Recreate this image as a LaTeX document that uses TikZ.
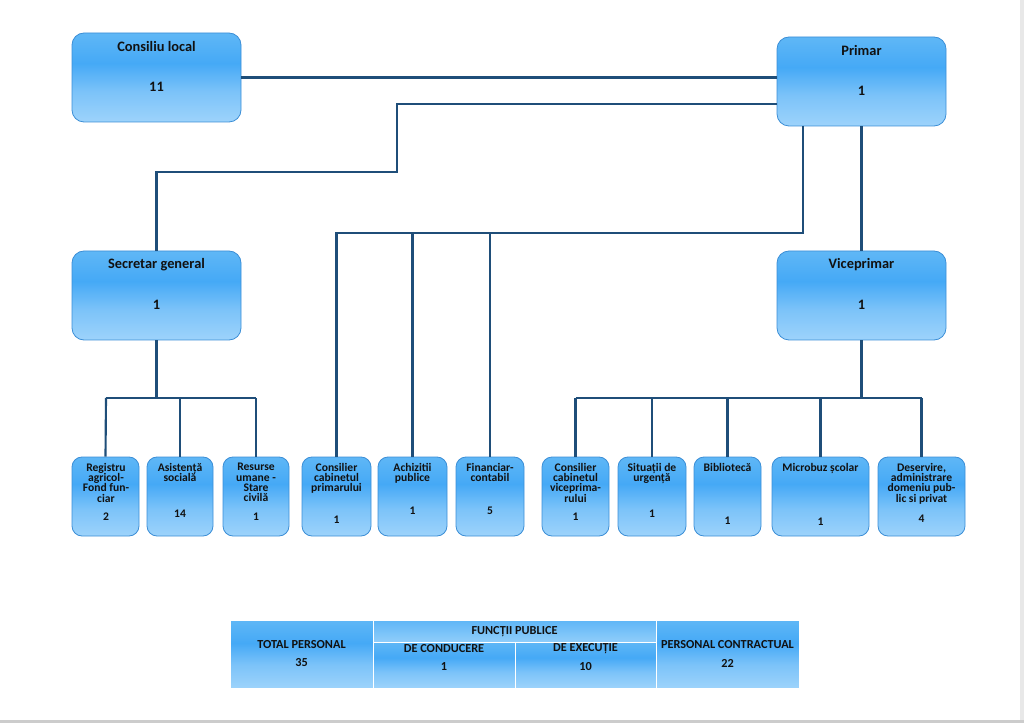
\documentclass[tikz,border=0pt]{standalone}
\usepackage{fontspec}
\setmainfont{Carlito}
\usetikzlibrary{fit}
\definecolor{cA}{HTML}{9DD3FB}
\definecolor{cB}{HTML}{7CC3F9}
\definecolor{cC}{HTML}{45A9F6}
\definecolor{cD}{HTML}{5FB7F6}
\definecolor{hdrtop}{HTML}{5EB6F7}
\definecolor{hdrbot}{HTML}{90CDFA}
\definecolor{boxedge}{HTML}{3B8ED6}
\definecolor{connc}{HTML}{1F4E79}
\definecolor{txt}{HTML}{111111}
\pgfdeclareverticalshading{boxshade}{100bp}{color(0bp)=(cA); color(25bp)=(cA); color(42bp)=(cB); color(58bp)=(cC); color(75bp)=(cD); color(100bp)=(cD)}
\tikzset{
  bigbox/.style={draw=boxedge, line width=0.6pt, rounded corners=9pt, shading=boxshade, inner sep=0pt},
  smallbox/.style={draw=boxedge, line width=0.6pt, rounded corners=7.5pt, shading=boxshade, inner sep=0pt},
  cell/.style={draw=white, line width=0.6pt, shading=boxshade, inner sep=0pt},
  hdrcell/.style={draw=white, line width=0.6pt, top color=hdrtop, bottom color=hdrbot, inner sep=0pt},
  bigtxt/.style={font=\bfseries\fontsize{10.8}{12}\selectfont, text=txt, inner sep=0pt},
  smalltxt/.style={font=\bfseries\fontsize{8.7}{7.7}\selectfont, text=txt, align=center, inner sep=0pt, anchor=north},
  numtxt/.style={font=\bfseries\fontsize{8.7}{9}\selectfont, text=txt, inner sep=0pt},
  tabtxt/.style={font=\bfseries\fontsize{9.2}{10}\selectfont, text=txt, inner sep=0pt},
  conn/.style={draw=connc, line width=1.6pt}
}
\begin{document}
\begin{tikzpicture}[x=0.75pt, y=-0.75pt]
\useasboundingbox (0,0) rectangle (1024,723);
% page shadow
\fill[gray!18] (1020,0) rectangle (1024,723);
\fill[gray!40] (0,720) rectangle (1024,723);

\node[bigbox, fit={(72,33) (241,122)}] (consiliu) {};
\node[bigbox, fit={(777,37) (946,126)}] (primar) {};
\node[bigbox, fit={(72,251) (241,340)}] (secretar) {};
\node[bigbox, fit={(777,251) (946,340)}] (vice) {};

\node[smallbox, fit={(72,457) (139,536)}] (registru) {};
\node[smallbox, fit={(147,457) (213,536)}] (asist) {};
\node[smallbox, fit={(223,457) (289,536)}] (resurse) {};
\node[smallbox, fit={(302,457) (371,536)}] (conspr) {};
\node[smallbox, fit={(378,457) (447,536)}] (achiz) {};
\node[smallbox, fit={(456,457) (524,536)}] (finan) {};
\node[smallbox, fit={(542,457) (609,536)}] (consvp) {};
\node[smallbox, fit={(618,457) (686,536)}] (situatii) {};
\node[smallbox, fit={(694,457) (761,536)}] (biblio) {};
\node[smallbox, fit={(772,457) (869,536)}] (microbuz) {};
\node[smallbox, fit={(878,457) (965,536)}] (deserv) {};

% connector waypoints
\coordinate (pA) at (777,104);
\coordinate (pB) at (397,104);
\coordinate (pC) at (397,172);
\coordinate (pD) at (156.5,172);
\coordinate (qA) at (803,126);
\coordinate (qB) at (803,233);
\coordinate (qC) at (336.5,233);
\coordinate (qD) at (412.5,233);
\coordinate (qE) at (490,233);
\coordinate (sA) at (156.5,398);
\coordinate (sL) at (106,398);
\coordinate (sR) at (256,398);
\coordinate (vA) at (861.5,398);
\coordinate (vL) at (575.5,398);
\coordinate (vR) at (921.5,398);

\draw[conn] (consiliu.east) -- (consiliu.east -| primar.west);
\draw[conn] (pA) -- (pB) -- (pC) -- (pD) -- (secretar.north);
\draw[conn] (qA) -- (qB) -- (qC) -- (conspr.north);
\draw[conn] (qD) -- (achiz.north);
\draw[conn] (qE) -- (finan.north);
\draw[conn] (primar.south) -- (vice.north);
\draw[conn] (secretar.south) -- (sA);
\draw[conn] (sL) -- (sR);
\draw[conn] (sL) -- (registru.north);
\draw[conn] (asist.north |- sA) -- (asist.north);
\draw[conn] (sR) -- (resurse.north);
\draw[conn] (vice.south) -- (vA);
\draw[conn] (vL) -- (vR);
\draw[conn] (vL) -- (consvp.north);
\draw[conn] (situatii.north |- vA) -- (situatii.north);
\draw[conn] (biblio.north |- vA) -- (biblio.north);
\draw[conn] (microbuz.north |- vA) -- (microbuz.north);
\draw[conn] (vR) -- (deserv.north);

% big box texts
\node[bigtxt] (t1) at (156.5,47) {Consiliu local};
\node[bigtxt] (n1) at (156.5,87) {11};
\node[bigtxt] (t2) at (861.5,51) {Primar};
\node[bigtxt] (n2) at (861.5,91) {1};
\node[bigtxt] (t3) at (156.5,265) {Secretar general};
\node[bigtxt] (n3) at (156.5,305) {1};
\node[bigtxt] (t4) at (861.5,265) {Viceprimar};
\node[bigtxt] (n4) at (861.5,305) {1};

% small box texts
\node[smalltxt] (t5) at (106,463) {Registru\\agricol-\\Fond fun-\\ciar};
\node[numtxt] (n5) at (106,517) {2};
\node[smalltxt] (t6) at (180,463) {Asistență\\socială};
\node[numtxt] (n6) at (180,514) {14};
\node[smalltxt] (t7) at (256,463) {Resurse\\umane -\\Stare\\civilă};
\node[numtxt] (n7) at (256,517) {1};
\node[smalltxt] (t8) at (336.5,463) {Consilier\\cabinetul\\primarului};
\node[numtxt] (n8) at (336.5,520) {1};
\node[smalltxt] (t9) at (412.5,463) {Achizitii\\publice};
\node[numtxt] (n9) at (412.5,511) {1};
\node[smalltxt] (t10) at (490,463) {Financiar-\\contabil};
\node[numtxt] (n10) at (490,511) {5};
\node[smalltxt] (t11) at (575.5,463) {Consilier\\cabinetul\\viceprima-\\rului};
\node[numtxt] (n11) at (575.5,517) {1};
\node[smalltxt] (t12) at (652,463) {Situații de\\urgență};
\node[numtxt] (n12) at (652,514) {1};
\node[smalltxt] (t13) at (727.5,463) {Bibliotecă};
\node[numtxt] (n13) at (727.5,521) {1};
\node[smalltxt] (t14) at (820.5,463) {Microbuz școlar};
\node[numtxt] (n14) at (820.5,522) {1};
\node[smalltxt] (t15) at (921.5,463) {Deservire,\\administrare\\domeniu pub-\\lic si privat};
\node[numtxt] (n15) at (921.5,519) {4};

% summary table
\node[cell, fit={(230,620) (373,688)}] (ctotal) {};
\node[hdrcell, fit={(373,620) (656,642)}] (chdr) {};
\node[cell, fit={(373,642) (515,688)}] (ccond) {};
\node[cell, fit={(515,642) (656,688)}] (cexec) {};
\node[cell, fit={(656,620) (799,688)}] (ccontr) {};
\node[tabtxt] (x1) at (301.5,645) {TOTAL PERSONAL};
\node[tabtxt] (x2) at (301.5,663) {35};
\node[tabtxt] (x3) at (514.5,632) {FUNCȚII PUBLICE};
\node[tabtxt] (x4) at (444,649) {DE CONDUCERE};
\node[tabtxt] (x5) at (444,667) {1};
\node[tabtxt] (x6) at (585.5,649) {DE EXECUȚIE};
\node[tabtxt] (x7) at (585.5,667) {10};
\node[tabtxt] (x8) at (727.5,645) {PERSONAL CONTRACTUAL};
\node[tabtxt] (x9) at (727.5,663) {22};
\end{tikzpicture}
\end{document}
